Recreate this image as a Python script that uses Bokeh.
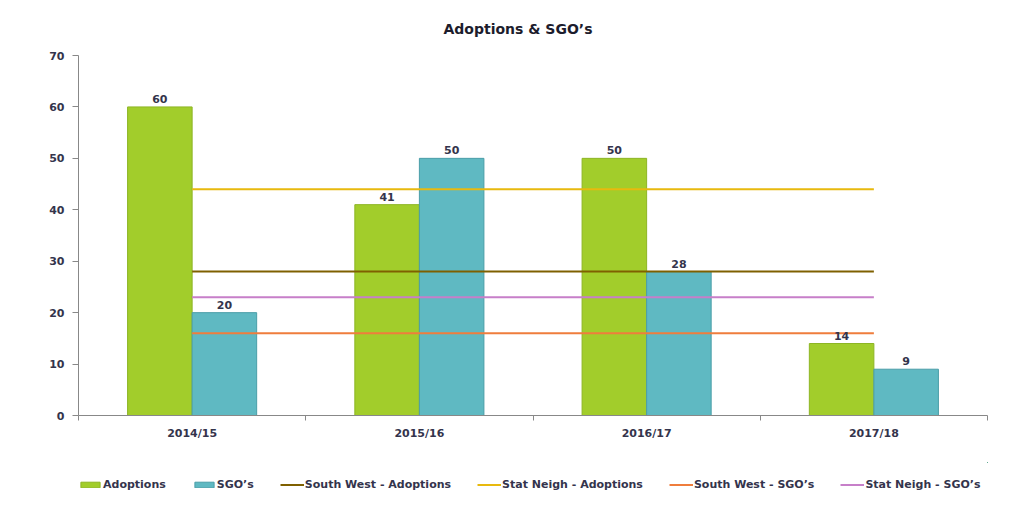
import numpy as np
from bokeh.plotting import figure
from bokeh.layouts import column
from bokeh.models import (ColumnDataSource, Range1d, FixedTicker, LabelSet, Legend,
                          LegendItem, Title)
from bokeh.core.properties import value
from bokeh.embed import file_html
from bokeh.resources import INLINE

categories = ["2014/15", "2015/16", "2016/17", "2017/18"]
adoptions = [60, 41, 50, 14]
sgos = [20, 50, 28, 9]
sw_adoptions = [28, 28, 28, 28]
sn_adoptions = [44, 44, 44, 44]
sw_sgos = [16, 16, 16, 16]
sn_sgos = [23, 23, 23, 23]
y_ticks = [0, 10, 20, 30, 40, 50, 60, 70]
series_names = ["Adoptions", "SGO\u2019s", "South West - Adoptions",
                "Stat Neigh - Adoptions", "South West - SGO\u2019s", "Stat Neigh - SGO\u2019s"]

FONT = "DejaVu Sans"
TXT = "#34344c"
GREEN = "#a2cd2b"
BLUE = "#5fb9c2"
GREEN_EDGE = "#8db524"
BLUE_EDGE = "#4a9ea8"
LINE_COLORS = ["#7f6000", "#e8b90e", "#ef7d3c", "#c77fc9"]
line_series = [sw_adoptions, sn_adoptions, sw_sgos, sn_sgos]

n = len(categories)
centers = np.arange(n) + 0.5
bw = 0.284

src = ColumnDataSource(dict(xa=centers - bw / 2, xs=centers + bw / 2,
                            adoptions=adoptions, sgos=sgos,
                            la=[str(v) for v in adoptions], ls=[str(v) for v in sgos]))


def draw_series(fig):
    rs = [fig.vbar(x="xa", top="adoptions", width=bw, source=src, fill_color=GREEN,
                   line_color=GREEN_EDGE, line_width=1),
          fig.vbar(x="xs", top="sgos", width=bw, source=src, fill_color=BLUE,
                   line_color=BLUE_EDGE, line_width=1)]
    for vals, col in zip(line_series, LINE_COLORS):
        rs.append(fig.line(centers, vals, line_color=col, line_width=2))
    return rs


p = figure(width=1006, height=462, output_backend="svg", toolbar_location=None,
           x_range=Range1d(0, n), y_range=Range1d(0, 70),
           min_border_left=78, min_border_right=19, min_border_top=54, min_border_bottom=47)
p.background_fill_color = "white"
p.border_fill_color = "white"
p.outline_line_color = None
p.grid.visible = False

draw_series(p)

for xcol, ycol, tcol in (("xa", "adoptions", "la"), ("xs", "sgos", "ls")):
    p.add_layout(LabelSet(x=xcol, y=ycol, text=tcol, source=src, text_align="center",
                          text_baseline="bottom", y_offset=4, text_font=value(FONT),
                          text_font_size="11px", text_font_style="bold", text_color=TXT))

xa = p.xaxis[0]
xa.ticker = FixedTicker(ticks=list(centers), minor_ticks=list(range(n + 1)))
xa.major_label_overrides = {float(c): cat for c, cat in zip(centers, categories)}
xa.major_tick_line_color = None
xa.minor_tick_line_color = "#888888"
xa.minor_tick_out = 5
xa.minor_tick_in = 0
xa.major_tick_out = 5
xa.major_tick_in = 0
xa.axis_line_color = "#888888"
xa.major_label_text_font = FONT
xa.major_label_text_font_size = "11px"
xa.major_label_text_font_style = "bold"
xa.major_label_text_color = TXT
xa.major_label_standoff = 6

ya = p.yaxis[0]
ya.ticker = FixedTicker(ticks=y_ticks)
ya.minor_tick_line_color = None
ya.major_tick_line_color = "#888888"
ya.major_tick_out = 6
ya.major_tick_in = 0
ya.axis_line_color = "#888888"
ya.major_label_text_font = FONT
ya.major_label_text_font_size = "11px"
ya.major_label_text_font_style = "bold"
ya.major_label_text_color = TXT
ya.major_label_standoff = 8

title = Title(text="Adoptions & SGO\u2019s", align="left", offset=365, text_font=FONT,
              text_font_size="14px", text_font_style="bold", text_color="#1c1c2c",
              standoff=37)
p.add_layout(title, "above")

# legend strip: the same series drawn far outside its visible window, only the legend shows
p2 = figure(width=1006, height=30, output_backend="svg", toolbar_location=None,
            x_axis_type=None, y_axis_type=None, min_border=0,
            x_range=Range1d(-10, -9), y_range=Range1d(-20, -10))
p2.outline_line_color = None
p2.grid.visible = False
p2.background_fill_color = "white"
p2.border_fill_color = "white"
leg_r = draw_series(p2)

legend = Legend(items=[LegendItem(label=nm, renderers=[r]) for nm, r in zip(series_names, leg_r)],
                orientation="horizontal", location=(0, 1))
legend.glyph_width = 24
legend.glyph_height = 7
legend.label_standoff = 1
legend.spacing = 26
legend.padding = 0
legend.margin = 0
legend.border_line_color = None
legend.background_fill_alpha = 0
legend.label_text_font = FONT
legend.label_text_font_size = "11px"
legend.label_text_font_style = "bold"
legend.label_text_color = TXT
legend.label_height = 12
p2.add_layout(legend, "center")

layout = column(p, p2, spacing=0)
open("out.html", "w").write(file_html(layout, INLINE))
